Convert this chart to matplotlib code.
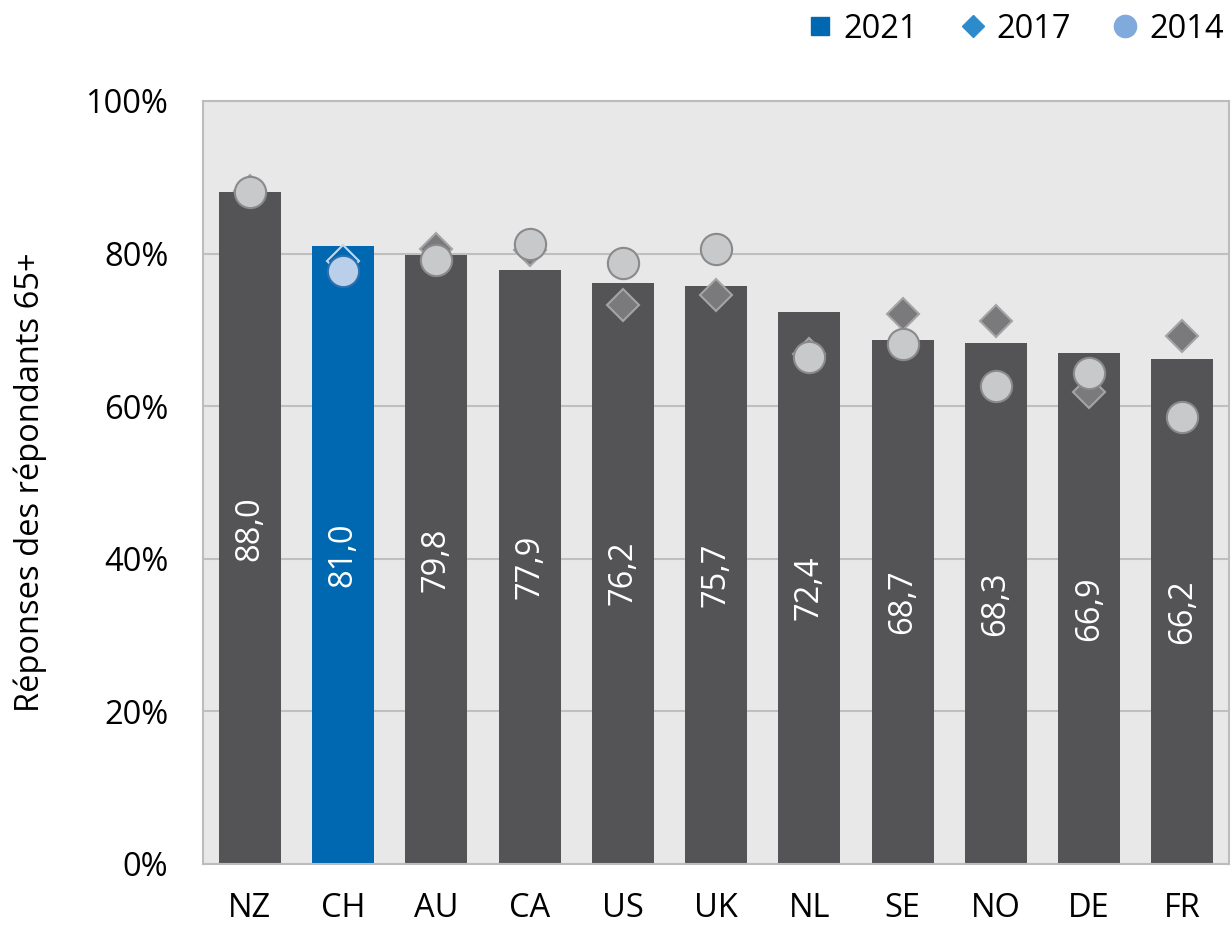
import numpy as np
import matplotlib.pyplot as plt
from matplotlib.lines import Line2D

plt.rcParams['font.family'] = ['Open Sans', 'DejaVu Sans']

countries = ['NZ', 'CH', 'AU', 'CA', 'US', 'UK', 'NL', 'SE', 'NO', 'DE', 'FR']
val_2021 = [88.0, 81.0, 79.8, 77.9, 76.2, 75.7, 72.4, 68.7, 68.3, 66.9, 66.2]
val_2017 = [88.2, 79.0, 80.6, 80.4, 73.2, 74.6, 66.8, 72.1, 71.1, 61.9, 69.2]
val_2014 = [88.0, 77.7, 79.1, 81.2, 78.8, 80.6, 66.5, 68.2, 62.6, 64.4, 58.6]
highlight = 'CH'

bar_grey = '#545456'
blue = '#0068b0'
fs = 23.5

fig = plt.figure(figsize=(12.31, 9.26), dpi=100)
ax = fig.add_axes([0.165, 0.067, 0.8334, 0.824])
ax.set_facecolor('#e8e8e8')

x = np.arange(len(countries))
colors = [blue if c == highlight else bar_grey for c in countries]
ax.bar(x, val_2021, width=0.665, color=colors, zorder=2)

for i, c in enumerate(countries):
    hl = c == highlight
    ax.plot(x[i], val_2017[i], marker='D', ms=16.5, linestyle='none',
            mfc=blue if hl else '#7a7a7c', mec='#c5d6ec' if hl else '#a4a4a6',
            mew=1.5, zorder=3)
    ax.plot(x[i], val_2014[i], marker='o', ms=22.5, linestyle='none',
            mfc='#b9cfea' if hl else '#c8c9cb', mec='#2a70b0' if hl else '#8a8a8c',
            mew=1.5, zorder=4)
    ax.text(x[i], val_2021[i] / 2, f'{val_2021[i]:.1f}'.replace('.', ','),
            rotation=90, ha='center', va='center', color='white',
            fontsize=fs, zorder=5)

ax.set_xlim(-0.5, len(countries) - 0.5)
ax.set_ylim(0, 100)
ax.set_xticks(x)
ax.set_xticklabels(countries, fontsize=fs)
ax.set_yticks(range(0, 101, 20))
ax.set_yticklabels([f'{v}%' for v in range(0, 101, 20)], fontsize=fs)
ax.tick_params(axis='y', length=0, pad=25)
ax.tick_params(axis='x', length=0, pad=20)
ax.grid(axis='y', color='#bfbfbf', lw=1.5, zorder=1)
ax.set_axisbelow(True)
for s in ax.spines.values():
    s.set_color('#bcbcbc')
    s.set_linewidth(1.5)
ax.set_ylabel('Réponses des répondants 65+', fontsize=fs, labelpad=28)

handles = [
    Line2D([], [], marker='s', ms=13, linestyle='none', color=blue),
    Line2D([], [], marker='D', ms=11, linestyle='none', color='#2e8bcb'),
    Line2D([], [], marker='o', ms=16, linestyle='none', color='#7faadb'),
]
fig.legend(handles, ['2021', '2017', '2014'], loc='upper right', ncol=3,
           bbox_to_anchor=(1.018, 1.018), frameon=False, fontsize=fs,
           handlelength=0.75, handletextpad=0.35, columnspacing=1.3)

fig.savefig('out.png', dpi=100)
